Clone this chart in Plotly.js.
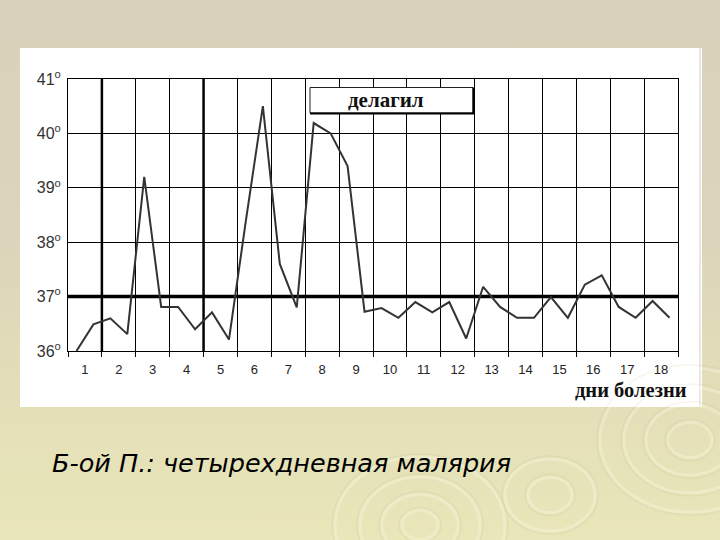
<!DOCTYPE html>
<html>
<head>
<meta charset="utf-8">
<script src="https://cdn.plot.ly/plotly-3.0.1.min.js"></script>
<style>
  html, body { margin: 0; padding: 0; }
  body { width: 720px; height: 540px; overflow: hidden;
         background: linear-gradient(180deg, #d9d1bb 0%, #dcd5bb 45%, #e4dfb8 75%, #e9e6b9 100%); }
  #chart { width: 720px; height: 540px; }
</style>
</head>
<body>
<div id="chart"></div>
<script>
// ---- data ----
const dayLabels = ['1','2','3','4','5','6','7','8','9','10','11','12','13','14','15','16','17','18'];
const measureTimes = [0.25,0.75,1.25,1.75,2.25,2.75,3.25,3.75,4.25,4.75,5.25,5.75,6.25,6.75,7.25,7.75,8.25,8.75,
                      9.25,9.75,10.25,10.75,11.25,11.75,12.25,12.75,13.25,13.75,14.25,14.75,15.25,15.75,16.25,16.75,17.25,17.75];
const temperature = [36.0,36.49,36.6,36.31,39.2,36.81,36.81,36.4,36.71,36.21,38.4,40.5,37.6,36.8,40.19,40.0,39.4,36.72,
                     36.79,36.61,36.9,36.71,36.9,36.23,37.18,36.81,36.61,36.61,36.99,36.61,37.22,37.39,36.81,36.61,36.92,36.61];
const yTickVals = [36,37,38,39,40,41];
const yTickText = ['36','37','38','39','40','41'];
const normalTemp = 37;
const boldDays = [1,4];
const drugLabel = 'делагил';
const xAxisLabel = 'дни болезни';
const caption = 'Б-ой П.: четырехдневная малярия';

// ---- layout helpers (pixel -> paper) ----
const L = 68, T = 79, W = 610, H = 272;
const px = x => (x - L) / W;
const py = y => (T + H - y) / H;

const dayTicks = [];
for (let i = 0; i <= dayLabels.length; i++) dayTicks.push(i);
const dayCenters = dayLabels.map((_, i) => i + 0.5);

const shapes = [];
// white slide panel
shapes.push({type:'rect', xref:'paper', yref:'paper', x0:px(20), x1:px(702), y0:py(407), y1:py(48),
  fillcolor:'#ffffff', line:{width:0}, layer:'below'});
shapes.push({type:'line', xref:'paper', yref:'paper', x0:px(700), x1:px(700), y0:py(407), y1:py(48),
  line:{color:'#e8e8e8', width:2}, layer:'below'});
// faint ripples on background
const ripples = [[690,440,[22,44,66,90]],[420,525,[18,38,60,85]],[550,495,[22,45]]];
ripples.forEach(([cx,cy,rs]) => rs.forEach(r => {
  shapes.push({type:'circle', xref:'paper', yref:'paper', x0:px(cx-r), x1:px(cx+r), y0:py(cy+r*0.8), y1:py(cy-r*0.8),
    line:{color:'rgba(255,255,240,0.28)', width:3}, layer:'below'});
  shapes.push({type:'circle', xref:'paper', yref:'paper', x0:px(cx-r-3), x1:px(cx+r+3), y0:py(cy+r*0.8+3), y1:py(cy-r*0.8-3),
    line:{color:'rgba(190,180,140,0.15)', width:1.5}, layer:'below'});
}));
// thick normal line at 37
shapes.push({type:'line', xref:'paper', yref:'y', x0:0, x1:1, y0:normalTemp, y1:normalTemp,
  line:{color:'#000', width:3.5}, layer:'between'});
// thick vertical day lines
boldDays.forEach(d => shapes.push({type:'line', xref:'x', yref:'paper', x0:d, x1:d, y0:0, y1:1,
  line:{color:'#000', width:2.5}, layer:'between'}));
// drug box
shapes.push({type:'rect', xref:'paper', yref:'paper', x0:px(310), x1:px(473), y0:py(113), y1:py(87.5),
  fillcolor:'#ffffff', line:{color:'#222', width:1}, layer:'above'});
shapes.push({type:'path', xref:'paper', yref:'paper',
  path:`M ${px(310)} ${py(113.5)} L ${px(473.5)} ${py(113.5)} L ${px(473.5)} ${py(87.5)}`,
  line:{color:'#000', width:2}, layer:'above'});

const trace = {
  x: measureTimes, y: temperature, type:'scatter', mode:'lines',
  line:{color:'#333333', width:2}, hoverinfo:'skip', showlegend:false
};
const dummy = {x:[0], y:[36], xaxis:'x2', type:'scatter', mode:'markers', marker:{opacity:0}, showlegend:false, hoverinfo:'skip'};

const layout = {
  width:720, height:540,
  margin:{l:L, r:720-L-W, t:T, b:540-T-H, pad:0},
  paper_bgcolor:'rgba(0,0,0,0)', plot_bgcolor:'#ffffff',
  showlegend:false,
  xaxis:{range:[0,18], tickvals:dayTicks, showticklabels:false, ticks:'outside', ticklen:5, tickcolor:'#000', tickwidth:1,
    showgrid:true, gridcolor:'#000', gridwidth:1, showline:true, linecolor:'#000', linewidth:1, mirror:true, zeroline:false, fixedrange:true},
  xaxis2:{range:[0,18], overlaying:'x', anchor:'y', side:'bottom', tickvals:dayCenters, ticktext:dayLabels,
    showgrid:false, ticks:'', showline:false, zeroline:false, ticklabelstandoff:9,
    tickfont:{family:'Liberation Sans, Arial, sans-serif', size:13, color:'#222'}},
  yaxis:{range:[36,41], tickvals:yTickVals, ticktext:yTickText.map(t => t + '<sup>o</sup>'), ticks:'',
    showgrid:true, gridcolor:'#000', gridwidth:1, showline:true, linecolor:'#000', linewidth:1, mirror:true, zeroline:false,
    ticklabelstandoff:3, tickfont:{family:'Liberation Sans, Arial, sans-serif', size:16, color:'#333'}},
  shapes: shapes,
  annotations:[
    {text:drugLabel, xref:'paper', yref:'paper', x:px(386), y:py(100), xanchor:'center', yanchor:'middle', showarrow:false,
      font:{family:'Liberation Serif, Times New Roman, serif', size:21, color:'#111', weight:'bold'}},
    {text:xAxisLabel, xref:'paper', yref:'paper', x:px(689), y:py(390), xanchor:'right', yanchor:'middle', showarrow:false,
      font:{family:'Liberation Serif, Times New Roman, serif', size:20.5, color:'#111', weight:'bold'}},
    {text:caption, xref:'paper', yref:'paper', x:px(50), y:py(463), xanchor:'left', yanchor:'middle', showarrow:false,
      font:{family:'DejaVu Sans, Liberation Sans, sans-serif', size:25.5, color:'#000', style:'italic'}}
  ]
};

Plotly.newPlot('chart', [trace, dummy], layout, {staticPlot:true, displayModeBar:false});
</script>
</body>
</html>
